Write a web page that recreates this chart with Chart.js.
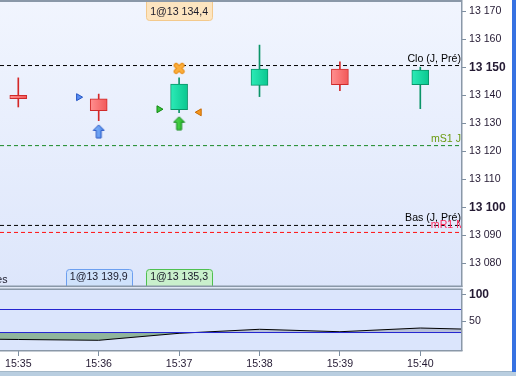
<!DOCTYPE html>
<html><head><meta charset="utf-8">
<script src="https://cdn.jsdelivr.net/npm/chart.js@4.4.1/dist/chart.umd.min.js"></script>
<style>
html,body{margin:0;padding:0;background:#fff;overflow:hidden;width:516px;height:376px}
#wrap{position:relative;width:516px;height:376px;background:#fff}
canvas{position:absolute;left:0;display:block}
#c1{top:0}
#c2{top:287px}
</style></head><body>
<div id="wrap">
<canvas id="c1" width="516" height="287" style="width:516px;height:287px"></canvas>
<canvas id="c2" width="516" height="89" style="width:516px;height:89px"></canvas>
</div>
<script>
// ---------- DATA ----------
const times  = ['15:35','15:36','15:37','15:38','15:39','15:40'];
const opens  = [13140.1, 13138.8, 13134.9, 13143.6, 13149.4, 13143.9];
const highs  = [13146.3, 13140.5, 13146.3, 13158.0, 13152.0, 13150.1];
const lows   = [13135.9, 13131.0, 13133.9, 13139.6, 13141.7, 13135.3];
const closes = [13138.9, 13134.6, 13144.1, 13149.4, 13143.9, 13149.1];

const priceTicks = [13080, 13090, 13100, 13110, 13120, 13130, 13140, 13150, 13160, 13170];
const boldPriceTicks = [13100, 13150];

const levelNames  = ['Clo (J, Pré)', 'mS1 J', 'Bas (J, Pré)', 'mR1 M'];
const levelValues = [13150.7, 13122.1, 13093.6, 13091.1];

const markerTimes  = ['15:35:45', '15:36:00', '15:36:45', '15:37:00', '15:37:15', '15:37:00'];
const markerPrices = [13139.4, 13127.2, 13135.1, 13130.1, 13134.0, 13149.7];

const tradeTimes = ['15:36', '15:37', '15:37'];
const tradeTexts = ['1@13 139,9', '1@13 135,3', '1@13 134,4'];

const indTimes  = ['15:34','15:35','15:36','15:37','15:38','15:39','15:40','15:41'];
const indValues = [17.4, 15.6, 14.1, 27.3, 34.9, 30.3, 37.3, 33.5];
const indLevels = [72.3, 28.8];
const indTicks = [50, 100];
const boldIndTicks = [100];

// ---------- STYLES / LAYOUT ----------
const FONT = "'Liberation Sans', Arial, sans-serif";
const TXT = '#241a33';
const PRICE_MIN = 13071.61, PRICE_MAX = 13173.39;
const IND_MIN = -6.14, IND_MAX = 111.06;
const X_MIN = -0.2276, X_MAX = 5.5062;

const levelStyles = [
  {line:'#000000', text:'#000000', dash:[4,3], dx:0},
  {line:'#1a8a26', text:'#6a9a10', dash:[4,3], dx:0},
  {line:'#000000', text:'#000000', dash:[4,3], dx:0},
  {line:'#ff1010', text:'#ff2a5a', dash:[4,3], dx:4}
];
const markerStyles = [
  {kind:'tri', rot:90, fill:'#5a8ef2', stroke:'#2455c4'},
  {kind:'arrow', fill:'#8cbcfc', fill2:'#4a86ea', stroke:'#2455c4'},
  {kind:'tri', rot:90, fill:'#3cc43c', stroke:'#128a12'},
  {kind:'arrow', fill:'#5ce05c', fill2:'#22b022', stroke:'#108a18'},
  {kind:'tri', rot:-90, fill:'#f5961e', stroke:'#c86a00'},
  {kind:'x', fill:'#fbae3c', stroke:'#e88a10'}
];
const tradeStyles = [
  {pos:'bottom', bg:'#cfe2fb', border:'#6c9ff0'},
  {pos:'bottom', bg:'#c9f0cc', border:'#4fc050'},
  {pos:'top', bg:'#fde5c0', border:'#f3c98c'}
];

function toMin(s){ const p = s.split(':').map(Number); return p[0]*60 + p[1] + (p[2]||0)/60; }
const BASE = toMin(times[0]);
const tx = s => toMin(s) - BASE;
const fmt = v => String(v).replace(/\B(?=(\d{3})+(?!\d))/g, ' ');
const isUp = i => closes[i] >= opens[i];

function arrowImg(st){
  const c = document.createElement('canvas'); c.width = 13; c.height = 15;
  const g = c.getContext('2d');
  g.beginPath();
  g.moveTo(6.5,1); g.lineTo(12,6.5); g.lineTo(9,6.5); g.lineTo(9,14);
  g.lineTo(4,14); g.lineTo(4,6.5); g.lineTo(1,6.5); g.closePath();
  const gr = g.createLinearGradient(0,0,13,0);
  gr.addColorStop(0, st.fill); gr.addColorStop(1, st.fill2);
  g.fillStyle = gr; g.fill();
  g.strokeStyle = st.stroke; g.lineWidth = 1; g.stroke();
  return c;
}
function xImg(st){
  const c = document.createElement('canvas'); c.width = 13; c.height = 13;
  const g = c.getContext('2d');
  g.lineCap = 'round';
  const seg = () => { g.beginPath(); g.moveTo(3.5,3.5); g.lineTo(9.5,9.5); g.moveTo(9.5,3.5); g.lineTo(3.5,9.5); g.stroke(); };
  g.strokeStyle = st.stroke; g.lineWidth = 5; seg();
  g.strokeStyle = st.fill; g.lineWidth = 3; seg();
  return c;
}
function roundRect(ctx,x,y,w,h,r){
  ctx.beginPath(); ctx.moveTo(x+r,y);
  ctx.arcTo(x+w,y,x+w,y+h,r); ctx.arcTo(x+w,y+h,x,y+h,r);
  ctx.arcTo(x,y+h,x,y,r); ctx.arcTo(x,y,x+w,y,r); ctx.closePath();
}

Chart.defaults.font.family = FONT;
Chart.defaults.font.size = 10.6;
Chart.defaults.color = TXT;
Chart.defaults.animation = false;

// ---------- MAIN PRICE CHART ----------
const mainPlugin = {
  id: 'mainDecor',
  beforeDraw(chart){
    const {ctx, chartArea: a} = chart;
    ctx.save();
    ctx.fillStyle = '#ffffff'; ctx.fillRect(0,0,chart.width,chart.height);
    const gr = ctx.createLinearGradient(0,a.top,0,a.bottom);
    gr.addColorStop(0,'#f1f5fe'); gr.addColorStop(1,'#dde6fb');
    ctx.fillStyle = gr; ctx.fillRect(a.left,a.top,a.right-a.left,a.bottom-a.top);
    ctx.restore();
  },
  afterDatasetsDraw(chart){
    const {ctx, chartArea: a, scales} = chart;
    const x = scales.x, y = scales.y;
    ctx.save();
    ctx.beginPath(); ctx.rect(a.left,a.top,a.right-a.left,a.bottom-a.top); ctx.clip();
    ctx.font = '10.6px ' + FONT;
    ctx.textAlign = 'right'; ctx.textBaseline = 'alphabetic';
    levelNames.forEach((n,i)=>{
      ctx.fillStyle = levelStyles[i].text;
      ctx.fillText(n, a.right + levelStyles[i].dx, y.getPixelForValue(levelValues[i]) - 4);
    });
    ctx.fillStyle = '#1a1a2a';
    ctx.fillText('es', 7.5, a.bottom - 4);
    // trade boxes
    ctx.textAlign = 'center'; ctx.textBaseline = 'middle';
    tradeTexts.forEach((t,i)=>{
      const st = tradeStyles[i];
      const cx = x.getPixelForValue(tx(tradeTimes[i]));
      const w = ctx.measureText(t).width + 8;
      const top = st.pos === 'top';
      const by = top ? a.top - 5 : a.bottom - 18;
      roundRect(ctx, Math.round(cx - w/2) + 0.5, by + 0.5, Math.round(w), 23, 3);
      ctx.fillStyle = st.bg; ctx.fill();
      ctx.strokeStyle = st.border; ctx.lineWidth = 1; ctx.stroke();
      ctx.fillStyle = '#1a1a2a';
      ctx.fillText(t, cx, top ? a.top + 10 : a.bottom - 9.5);
    });
    ctx.restore();
  },
  afterDraw(chart){
    const {ctx, chartArea: a} = chart;
    ctx.save();
    ctx.fillStyle = '#8a98a8';
    ctx.fillRect(0, 0, a.right + 1, 2);
    ctx.fillRect(a.right, 0, 1.5, a.bottom);
    ctx.fillRect(0, a.bottom - 1.5, a.right + 1.5, 1.5);
    ctx.fillStyle = '#3672e2';
    ctx.fillRect(chart.width - 4, 0, 4, chart.height);
    ctx.restore();
  }
};

function bodyFill(c){
  const i = c.dataIndex, up = isUp(i);
  const ch = c.chart;
  if (!ch.chartArea || !ch.scales.x) return up ? '#14dca4' : '#fb7474';
  const px = ch.scales.x.getPixelForValue(tx(times[i]));
  const g = ch.ctx.createLinearGradient(px - 8, 0, px + 8, 0);
  if (up){ g.addColorStop(0,'#2beab6'); g.addColorStop(1,'#0cc891'); }
  else   { g.addColorStop(0,'#ff8e8e'); g.addColorStop(1,'#f25a5a'); }
  return g;
}

const levelDatasets = levelValues.map((v,i)=>({
  type:'line', data:[{x:X_MIN,y:v},{x:X_MAX,y:v}],
  borderColor: levelStyles[i].line, borderDash: levelStyles[i].dash, borderWidth:1,
  pointRadius:0, fill:false, order:5
}));

new Chart(document.getElementById('c1'), {
  type:'bar',
  data:{ datasets:[
    ...levelDatasets,
    { label:'wick', data: times.map((t,i)=>({x:tx(t), y:[lows[i], highs[i]]})),
      barThickness:1, grouped:false, borderWidth:0,
      backgroundColor: c => isUp(c.dataIndex) ? '#0b9468' : '#d42828', order:4 },
    { label:'body', data: times.map((t,i)=>({x:tx(t), y:[opens[i], closes[i]]})),
      barThickness:17, grouped:false, borderWidth:1, borderSkipped:false,
      backgroundColor: bodyFill,
      borderColor: c => isUp(c.dataIndex) ? '#0b9468' : '#cf2a2a', order:3 },
    { type:'scatter', label:'marks',
      data: markerTimes.map((t,i)=>({x:tx(t), y:markerPrices[i]})),
      pointStyle: markerStyles.map(s => s.kind==='tri' ? 'triangle' : (s.kind==='arrow' ? arrowImg(s) : xImg(s))),
      rotation: markerStyles.map(s => s.rot || 0),
      pointRadius: markerStyles.map(s => s.kind==='tri' ? 4 : 6),
      backgroundColor: markerStyles.map(s => s.fill),
      borderColor: markerStyles.map(s => s.stroke),
      borderWidth:1, order:0 }
  ]},
  options:{
    responsive:false, devicePixelRatio:1, animation:false,
    layout:{autoPadding:false, padding:{top:2,bottom:0,left:0,right:0}},
    plugins:{legend:{display:false}, tooltip:{enabled:false}},
    scales:{
      x:{type:'linear', min:X_MIN, max:X_MAX, display:false, offset:false},
      y:{type:'linear', position:'right', min:PRICE_MIN, max:PRICE_MAX,
        afterBuildTicks: s => { s.ticks = priceTicks.map(v=>({value:v})); },
        afterFit: s => { s.width = 55; s.paddingTop = 0; s.paddingBottom = 0; },
        ticks:{ padding:3, color:TXT, callback: v => fmt(v),
          font: c => { const b = c.tick && boldPriceTicks.includes(c.tick.value);
            return {family:FONT, size: b ? 12 : 10.6, weight: b ? 'bold' : 'normal'}; } },
        grid:{drawOnChartArea:false, tickLength:5, color:'#7d8ea0'},
        border:{display:false}
      }
    }
  },
  plugins:[mainPlugin]
});

// ---------- INDICATOR CHART ----------
const indPlugin = {
  id:'indDecor',
  beforeDraw(chart){
    const {ctx, chartArea:a} = chart;
    ctx.save();
    ctx.fillStyle = '#ffffff'; ctx.fillRect(0,0,chart.width,chart.height);
    ctx.fillStyle = '#e0e8f6'; ctx.fillRect(0,0,a.right+1.5,a.top);
    ctx.fillStyle = '#dbe5fc'; ctx.fillRect(a.left,a.top,a.right-a.left,a.bottom-a.top);
    ctx.restore();
  },
  afterDraw(chart){
    const {ctx, chartArea:a} = chart;
    ctx.save();
    ctx.fillStyle = '#8a98a8';
    ctx.fillRect(0, a.top - 0.5, a.right + 1.5, 1.5);
    ctx.fillRect(a.right, a.top, 1.5, a.bottom - a.top);
    ctx.fillRect(0, a.bottom - 1, a.right + 1.5, 1.5);
    ctx.fillStyle = '#a4b8c8'; ctx.fillRect(0, chart.height - 5, chart.width, 1);
    ctx.fillStyle = '#b9cee0'; ctx.fillRect(0, chart.height - 4, chart.width, 4);
    ctx.fillStyle = '#3672e2'; ctx.fillRect(chart.width - 4, 0, 4, chart.height - 4);
    ctx.restore();
  }
};

new Chart(document.getElementById('c2'), {
  type:'line',
  data:{ datasets:[
    { data: indTimes.map((t,i)=>({x:tx(t), y:indValues[i]})),
      borderColor:'#000000', borderWidth:1, pointRadius:0, tension:0,
      fill:{target:{value:indLevels[1]}, above:'rgba(100,105,135,0.30)', below:'#90b59c'}, order:2 },
    ...indLevels.map(v=>({ data:[{x:X_MIN,y:v},{x:X_MAX,y:v}], borderColor:'#2424d0', borderWidth:1,
      pointRadius:0, fill:false, order:1 }))
  ]},
  options:{
    responsive:false, devicePixelRatio:1, animation:false,
    layout:{autoPadding:false, padding:{top:2,bottom:0,left:0,right:0}},
    plugins:{legend:{display:false}, tooltip:{enabled:false}},
    scales:{
      x:{type:'linear', position:'bottom', min:X_MIN, max:X_MAX, offset:false,
        afterBuildTicks: s => { s.ticks = times.map(t=>({value:tx(t)})); },
        afterFit: s => { s.height = 25; s.paddingLeft = 0; s.paddingRight = 0; },
        ticks:{ autoSkip:false, maxRotation:0, padding:2, color:TXT, callback:(v,i)=>times[i],
          font:{family:FONT, size:10.6} },
        grid:{drawOnChartArea:false, tickLength:5, color:'#7d8ea0'},
        border:{display:false}
      },
      y:{type:'linear', position:'right', min:IND_MIN, max:IND_MAX,
        afterBuildTicks: s => { s.ticks = indTicks.map(v=>({value:v})); },
        afterFit: s => { s.width = 55; s.paddingTop = 0; s.paddingBottom = 0; },
        ticks:{ padding:3, color:TXT, callback: v => String(v),
          font: c => { const b = c.tick && boldIndTicks.includes(c.tick.value);
            return {family:FONT, size: b ? 12 : 10.6, weight: b ? 'bold' : 'normal'}; } },
        grid:{drawOnChartArea:false, tickLength:5, color:'#7d8ea0'},
        border:{display:false}
      }
    }
  },
  plugins:[indPlugin]
});
</script>
</body></html>
